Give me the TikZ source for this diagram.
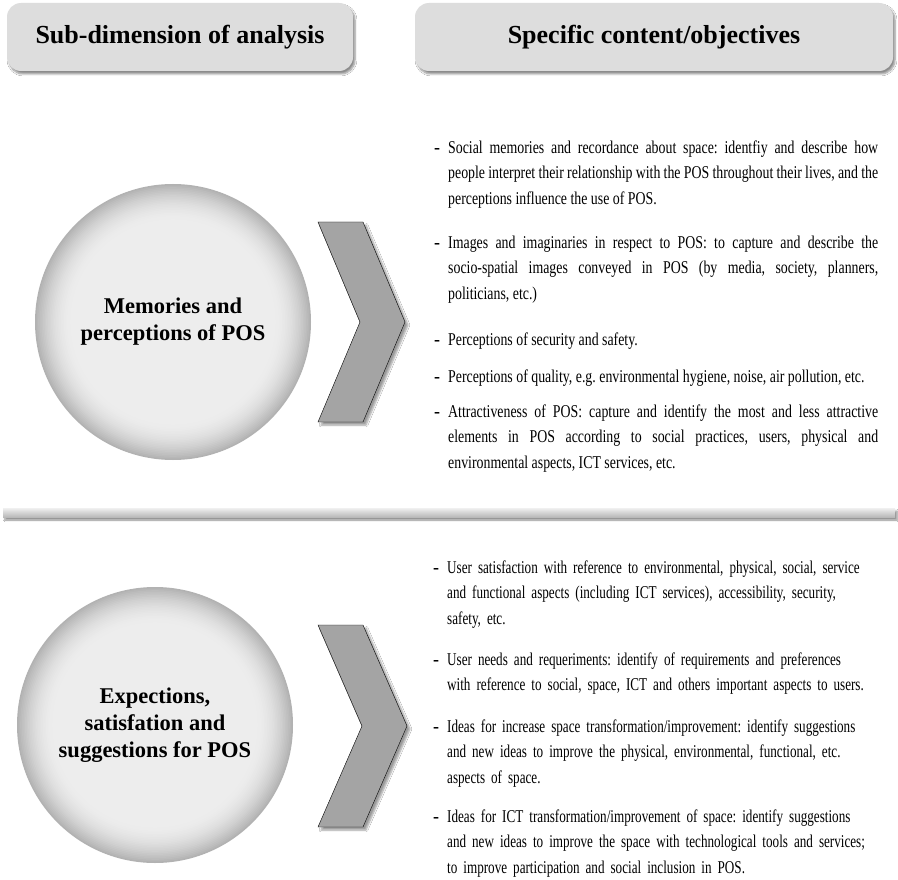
\documentclass[tikz,border=0pt]{standalone}
\usepackage{fontspec}
\setmainfont{Liberation Serif}
\newfontfamily\bodyfont[FakeStretch=0.77]{Liberation Serif}
\newfontfamily\narrowfont[FakeStretch=0.73, WordSpace=0.8]{Liberation Serif}
\usetikzlibrary{shadows.blur}
\tikzset{
  softshadow/.style={blur shadow={shadow xshift=2pt, shadow yshift=-3pt, shadow blur steps=6, shadow opacity=45}},
  headbox/.style={fill=gray!27, rounded corners=14pt, softshadow, minimum height=68pt,
    font=\fontsize{26}{30}\selectfont\bfseries},
  orbnode/.style={circle, minimum size=276pt, align=center,
    font=\fontsize{22.5}{27}\selectfont\bfseries},
  chevron/.style={fill=gray!71, blur shadow={shadow xshift=3pt, shadow yshift=-3pt, shadow blur steps=6, shadow opacity=40}},
  itemtext/.style={anchor=north west, inner sep=0pt, text width=430pt,
    font=\fontsize{18}{25.5}\selectfont\bodyfont\frenchspacing},
}
\newcommand{\dashitem}{\llap{{\normalfont\bfseries -}\hspace{8pt}}\strut}
\begin{document}
\begin{tikzpicture}[x=1pt, y=-1pt]
  \fill[white] (0,0) rectangle (898,880);
  \useasboundingbox (0,0) rectangle (898,880);
  % headers
  \node[headbox, minimum width=346pt] (subhead) at (180,37) {Sub-dimension of analysis};
  \node[headbox, minimum width=478pt] (contenthead) at (654,37) {Specific content/objectives};
  % shaded discs behind the circle nodes
  \foreach \cx/\cy in {173/322, 155/725} {
    \foreach \i in {0,...,24} {
      \pgfmathsetmacro{\pct}{14+46*(1-\i/24)^2}
      \fill[gray!\pct] (\cx,\cy) circle[radius=138-1.6*\i];
    }
  }
  % first sub-dimension
  \node[orbnode] (memo) at (173,322) {Memories and\\perceptions of POS};
  \draw[chevron] (318,222) -- (363,222) -- (405,322) -- (363,422) -- (318,422) -- (360,322) -- cycle;
  \begin{scope}[every node/.style={itemtext, align=justify}]
    \node (m1) at (448,135) {\dashitem Social memories and recordance about space: identfiy and describe how\linebreak
      people interpret their relationship with the POS throughout their lives, and the\linebreak
      perceptions influence the use of POS.};
    \node (m2) at (448,230) {\dashitem Images and imaginaries in respect to POS: to capture and describe the\linebreak
      socio-spatial images conveyed in POS (by media, society, planners,\linebreak
      politicians, etc.)};
    \node (m3) at (448,327) {\dashitem Perceptions of security and safety.};
    \node (m4) at (448,364) {\dashitem Perceptions of quality, e.g. environmental hygiene, noise, air pollution, etc.};
    \node (m5) at (448,399) {\dashitem Attractiveness of POS: capture and identify the most and less attractive\linebreak
      elements in POS according to social practices, users, physical and\linebreak
      environmental aspects, ICT services, etc.};
  \end{scope}
  % separator
  \shade[top color=gray!12, bottom color=gray!55, softshadow] (3,508) rectangle (895,517);
  % second sub-dimension
  \node[orbnode] (expect) at (155,725) {Expections,\\satisfation and\\suggestions for POS};
  \draw[chevron] (318,625) -- (363,625) -- (407,726) -- (363,827) -- (318,827) -- (362,726) -- cycle;
  \begin{scope}[every node/.style={itemtext, text width=445pt, align=left,
      font=\fontsize{18}{25.5}\selectfont\narrowfont\frenchspacing}]
    \node (e1) at (447,555) {\dashitem User satisfaction with reference to environmental, physical, social, service\\
      and functional aspects (including ICT services), accessibility, security,\\
      safety, etc.};
    \node (e2) at (447,647) {\dashitem User needs and requeriments: identify of requirements and preferences\\
      with reference to social, space, ICT and others important aspects to users.};
    \node (e3) at (447,714) {\dashitem Ideas for increase space transformation/improvement: identify suggestions\\
      and new ideas to improve the physical, environmental, functional, etc.\\
      aspects of space.};
    \node (e4) at (447,804) {\dashitem Ideas for ICT transformation/improvement of space: identify suggestions\\
      and new ideas to improve the space with technological tools and services;\\
      to improve participation and social inclusion in POS.};
  \end{scope}
\end{tikzpicture}
\end{document}
